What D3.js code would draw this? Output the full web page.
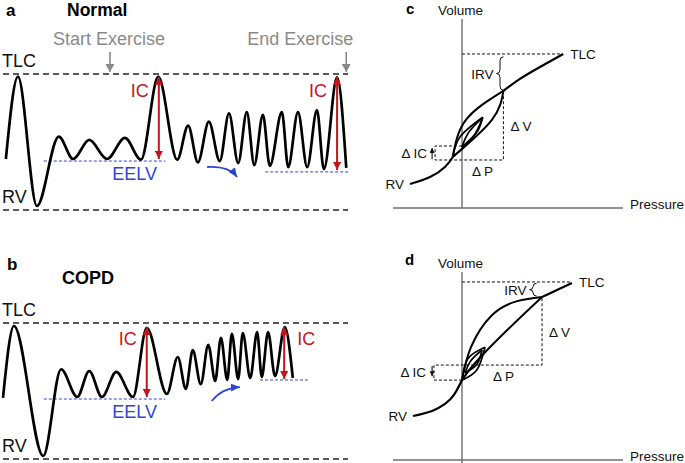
<!DOCTYPE html>
<html><head><meta charset="utf-8">
<script src="https://cdn.jsdelivr.net/npm/d3@7"></script>
<style>html,body{margin:0;padding:0;background:#fff}svg{display:block}text{font-family:"Liberation Sans",Arial,Helvetica,sans-serif}</style>
</head><body><div id="chart"></div>
<script>
// ---------- DATA: panels a/b (volume vs time, RV=0, TLC=100) ----------
const timeA = [0.5,2.6,5.9,9.7,12.2,15.0,18.1,21.2,24.0,27.0,30.3,32.2,33.9,35.8,37.7,39.3,40.9,42.4,43.7,45.2,46.4,48.5,49.6,51.3,52.9,54.6,55.8,58.1,59.7];
const volA  = [37.5,98,3,54,37.5,51.5,37.5,53,37,98,37,62,35,65,36,71,34.5,72,33,70,32.5,72,31.5,72,31.5,73.5,30,97.5,31];
const timeB = [0,1.9,7.0,10.1,12.9,15.0,17.2,19.7,22.6,25.0,28.5,30.4,31.8,33.0,34.4,35.7,36.9,37.9,39.0,39.8,40.9,41.7,43.0,44.2,45.0,46.1,47.3,49.0,50.4];
const volB  = [45,97.8,2.2,66,45.6,64.7,45.6,64,45.6,96.5,47.8,75,51.5,80,55,84,57.4,89,58.1,92,58.8,92.6,59.6,93.4,60.3,93.4,61,97,59.6];
const eelvA = [{t0:7.1,t1:28.2,v:36},{t0:45.6,t1:60.2,v:28}];
const eelvB = [{t0:7.1,t1:28.2,v:44.1},{t0:44.7,t1:53,v:58.1}];
const icA = [{t:27.1,top:97.8,bot:37.5,label:"left"},{t:58.1,top:97.8,bot:29.4,label:"left"}];
const icB = [{t:25.0,top:97,bot:45.6,label:"left"},{t:48.9,top:97,bot:58.8,label:"right"}];
const exerciseMarks = [{t:18.6,label:"Start Exercise"},{t:59.7,label:"End Exercise"}];
const shiftArrowA = [[35.5,31.6],[40.7,24.3]];
const shiftArrowB = [[36.3,42.6],[41.2,52.9]];

// ---------- DATA: panels c/d (pressure-volume) ----------
const sLowerC = [[-22.6,12.7],[-13.9,16.4],[-7.4,21.7],[-4,27]];
const sUpperC = [[18,62],[25.2,68.3],[33.9,74.6],[44,81.5]];
const loopsC = [
  {insp:[[-4,27],[1.7,46.6],[18,62]], exp:[[-4,27],[13,46.6],[18,62]]},
  {insp:[[-4,27],[-0.9,37.6],[9,48]], exp:[[-4,27],[4.8,37.6],[9,48]]},
  {insp:[[0,32.3],[3,40.2],[9,48]], exp:[[0,32.3],[6.5,40.2],[9,48]]}
];
const tlcC = 81.5, dashC = [[0,32.8],[-11.7,32.8],[-11.7,25.4],[18,25.4],[18,62]];
const sLowerD = [[-21.3,23.4],[-13,26.1],[-7.4,29.8],[-3.5,34.6],[0,42.5]];
const sUpperD = [[34.8,86.7],[41.3,90.4],[47.8,94.1]];
const loopsD = [
  {insp:[[0,42.5],[3.9,60],[13,77],[24,84.5],[34.8,86.7]], exp:[[0,42.5],[6,52],[20,69.5],[34.8,86.7]]},
  {insp:[[0,42.5],[2.6,54],[10,60]], exp:[[0,42.5],[6.5,48],[10,60]]},
  {insp:[[1.3,46.3],[4,53],[8.7,58.5]], exp:[[1.3,46.3],[6.5,51],[8.7,58.5]]}
];
const tlcD = 94.7, dashD = [[0,42.5],[-12.2,42.5],[-12.2,50.5],[34.8,50.5],[34.8,86.7]];

// ---------- DRAWING ----------
const W=685,H=463;
const svg=d3.select("#chart").append("svg").attr("width",W).attr("height",H);
svg.append("rect").attr("width",W).attr("height",H).attr("fill","#fff");
const defs=svg.append("defs");
function marker(id,color,len,wid){
  defs.append("marker").attr("id",id).attr("viewBox","0 0 10 10").attr("refX",10).attr("refY",5)
    .attr("markerWidth",len).attr("markerHeight",wid).attr("markerUnits","userSpaceOnUse")
    .attr("preserveAspectRatio","none").attr("orient","auto-start-reverse")
    .append("path").attr("d","M0,0L10,5L0,10Z").attr("fill",color);
}
const RED="#c3161c", BLUE="#2f44d4", GRAY="#8a8a8a", INK="#111";
marker("mRed",RED,8,8); marker("mGray",GRAY,8,9); marker("mBlue",BLUE,9,8); marker("mInk",INK,5,5);

const x = d3.scaleLinear().domain([0,60]).range([3,348]);
const yA = d3.scaleLinear().domain([0,100]).range([210,74]);
const yB = d3.scaleLinear().domain([0,100]).range([459,323]);

function drawWave(y, times, vols, eelv, ic, shift, icLabelY){
  const g=svg.append("g");
  [100,0].forEach(v=>g.append("line").attr("x1",x(0)).attr("x2",x(60)).attr("y1",y(v)).attr("y2",y(v))
    .attr("stroke","#222").attr("stroke-width",1.6).attr("stroke-dasharray","6,4"));
  eelv.forEach(e=>g.append("line").attr("x1",x(e.t0)).attr("x2",x(e.t1)).attr("y1",y(e.v)).attr("y2",y(e.v))
    .attr("stroke",BLUE).attr("stroke-width",1).attr("stroke-dasharray","3,2"));
  const pts=times.map((t,i)=>[t,vols[i]]);
  g.append("path").attr("d",d3.line().x(d=>x(d[0])).y(d=>y(d[1])).curve(d3.curveMonotoneX)(pts))
    .attr("fill","none").attr("stroke","#000").attr("stroke-width",2.7);
  ic.forEach(a=>{
    g.append("line").attr("x1",x(a.t)).attr("x2",x(a.t)).attr("y1",y(a.top)).attr("y2",y(a.bot))
      .attr("stroke",RED).attr("stroke-width",2).attr("marker-start","url(#mRed)").attr("marker-end","url(#mRed)");
    g.append("text").attr("x",a.label==="left"?x(a.t)-10:x(a.t)+13).attr("y",icLabelY)
      .attr("text-anchor",a.label==="left"?"end":"start").attr("font-size",18).attr("fill",RED).text("IC");
  });
  const [p0,p1]=shift;
  const sx=x(p0[0]),sy=y(p0[1]),ex=x(p1[0]),ey=y(p1[1]);
  const cx = ey>sy ? ex-8 : sx+10, cy = ey>sy ? sy-1 : ey+1;
  g.append("path").attr("d",`M${sx},${sy}Q${cx},${cy} ${ex},${ey}`).attr("fill","none")
    .attr("stroke",BLUE).attr("stroke-width",1.8).attr("marker-end","url(#mBlue)");
  g.append("text").attr("x",2).attr("y",y(100)-7).attr("font-size",18).attr("fill",INK).text("TLC");
  g.append("text").attr("x",2).attr("y",y(0)-7).attr("font-size",18).attr("fill",INK).text("RV");
  g.append("text").attr("x",x(19)).attr("y",y(eelv[0].v)+19).attr("font-size",18).attr("fill",BLUE).text("EELV");
  return g;
}
drawWave(yA,timeA,volA,eelvA,icA,shiftArrowA,97);
drawWave(yB,timeB,volB,eelvB,icB,shiftArrowB,345);

// headers a/b
svg.append("text").attr("x",6).attr("y",16).attr("font-size",17).attr("font-weight","bold").text("a");
svg.append("text").attr("x",67).attr("y",16).attr("font-size",17.5).attr("font-weight","bold").text("Normal");
svg.append("text").attr("x",7).attr("y",270).attr("font-size",17).attr("font-weight","bold").text("b");
svg.append("text").attr("x",62).attr("y",284).attr("font-size",18).attr("font-weight","bold").text("COPD");
exerciseMarks.forEach(m=>{
  svg.append("text").attr("x",m.label==="Start Exercise"?x(m.t)-57:x(m.t)+7).attr("y",45)
    .attr("text-anchor",m.label==="Start Exercise"?"start":"end").attr("font-size",18).attr("fill",GRAY).text(m.label);
  svg.append("line").attr("x1",x(m.t)).attr("x2",x(m.t)).attr("y1",52).attr("y2",yA(100)-2)
    .attr("stroke",GRAY).attr("stroke-width",1.6).attr("marker-end","url(#mGray)");
});

// ---------- panels c/d ----------
const xp = d3.scaleLinear().domain([-30,70]).range([393,623]);
const yC = d3.scaleLinear().domain([0,100]).range([208,19]);
const yD = d3.scaleLinear().domain([0,100]).range([460,272]);

function brace(xt,y1,y2,w){
  const m=(y1+y2)/2, q=Math.min(4,(y2-y1)/4);
  return `M${xt+2*w},${y1}Q${xt+w},${y1} ${xt+w},${y1+q}L${xt+w},${m-q}Q${xt+w},${m} ${xt},${m}Q${xt+w},${m} ${xt+w},${m+q}L${xt+w},${y2-q}Q${xt+w},${y2} ${xt+2*w},${y2}`;
}

function drawPV(y, sLow, sUp, loops, tlc, dash, o){
  const g=svg.append("g");
  const ln=d3.line().x(d=>xp(d[0])).y(d=>y(d[1]));
  g.append("line").attr("x1",xp(-30)).attr("x2",xp(70)).attr("y1",y(0)).attr("y2",y(0)).attr("stroke","#6e6e6e").attr("stroke-width",1.4);
  g.append("line").attr("x1",xp(0)).attr("x2",xp(0)).attr("y1",y(0)+ (o.axisExt||0)).attr("y2",y(100)).attr("stroke","#6e6e6e").attr("stroke-width",1.4);
  g.append("path").attr("d",ln([[0,tlc],[sUp[sUp.length-1][0]-0.8,tlc]])).attr("stroke",INK).attr("stroke-width",1).attr("stroke-dasharray","3,2").attr("fill","none");
  g.append("path").attr("d",ln(dash)).attr("stroke",INK).attr("stroke-width",1).attr("stroke-dasharray","3,2").attr("fill","none");
  const cl=ln.curve(d3.curveNatural);
  [sLow,sUp].forEach(s=>g.append("path").attr("d",cl(s)).attr("fill","none").attr("stroke","#000").attr("stroke-width",2.2));
  loops.forEach((lp,i)=>{
    [lp.insp,lp.exp].forEach(b=>g.append("path").attr("d",cl(b)).attr("fill","none").attr("stroke","#000").attr("stroke-width",i===0?2:1.7));
  });
  const fs=13.5;
  const T=(xx,yy,s,anchor)=>g.append("text").attr("x",xx).attr("y",yy).attr("font-size",fs).attr("fill",INK).attr("text-anchor",anchor||"start").text(s);
  T(438,y(100)-4,"Volume");
  T(630,y(0)+1,"Pressure");
  T(xp(sUp[sUp.length-1][0])+7,y(tlc)+5,"TLC");
  T(xp(sLow[0][0])-6,y(sLow[0][1])+5,"RV","end");
  g.append("path").attr("d",brace(xp(o.braceP),y(o.braceTop),y(o.braceBot),3.5)).attr("fill","none").attr("stroke",INK).attr("stroke-width",1);
  T(xp(o.braceP)-3,(y(o.braceTop)+y(o.braceBot))/2+5,"IRV","end");
  const top=dash[dash.length-1], corner=dash[3], ic1=dash[1];
  T(xp(top[0])+7,(y(top[1])+y(corner[1]))/2+6,"\u0394 V");
  T(xp(0)+o.dpX,y(corner[1])+16,"\u0394 P");
  T(xp(ic1[0])-8,o.dicY,"\u0394 IC","end");
  g.append("line").attr("x1",xp(-13)).attr("x2",xp(-13)).attr("y1",y(o.arrow[0])).attr("y2",y(o.arrow[1]))
    .attr("stroke",INK).attr("stroke-width",1.1).attr("marker-end","url(#mInk)");
}
drawPV(yC,sLowerC,sUpperC,loopsC,tlcC,dashC,{braceP:15,braceTop:80,braceBot:62.3,dpX:10,dicY:158,arrow:[25.8,31.8]});
drawPV(yD,sLowerD,sUpperD,loopsD,tlcD,dashD,{braceP:29.4,braceTop:94,braceBot:87.2,dpX:31,dicY:377,arrow:[50,44.6],axisExt:3});
svg.append("text").attr("x",406).attr("y",14).attr("font-size",15).attr("font-weight","bold").text("c");
svg.append("text").attr("x",405).attr("y",265).attr("font-size",15).attr("font-weight","bold").text("d");
</script></body></html>
